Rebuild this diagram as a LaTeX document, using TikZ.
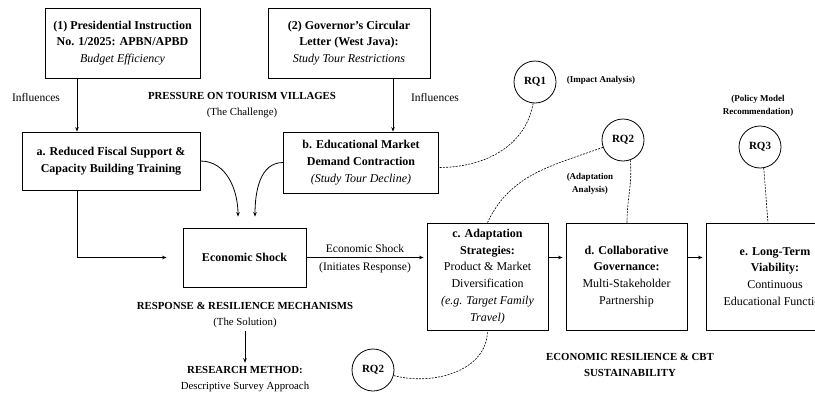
\documentclass[tikz,border=0pt]{standalone}
\usepackage{fontspec}
\setmainfont{Liberation Serif}
\usetikzlibrary{arrows.meta}

\begin{document}
\begin{tikzpicture}[x=1pt,y=-1pt,line width=0.8pt,
    box/.style={draw,align=center,font=\fontsize{12}{16.8}\selectfont,inner sep=1pt},
    rq/.style={draw,circle,minimum size=42pt,inner sep=0pt,font=\bfseries\fontsize{11}{12}\selectfont},
    note/.style={align=center,font=\bfseries\fontsize{9}{13}\selectfont},
    lbl/.style={font=\fontsize{11.5}{13}\selectfont},
    head/.style={align=center,font=\fontsize{10.8}{15.5}\selectfont},
    link/.style={dash pattern=on 2pt off 1.2pt,line width=0.6pt},
    >={Stealth[length=4.5pt,width=3.5pt]}]
  \useasboundingbox (0,0) rectangle (815,394);
  \clip (0,0) rectangle (815,394);
  % policy sources
  \node[box,minimum width=155pt,minimum height=70pt] (pol1) at (122.5,43)
    {\textbf{(1) Presidential Instruction}\\\textbf{No. 1/2025: APBN/APBD}\\\textit{Budget Efficiency}};
  \node[box,minimum width=162pt,minimum height=70pt] (pol2) at (349,43)
    {\textbf{(2) Governor’s Circular}\\\textbf{Letter (West Java):}\\\textit{Study Tour Restrictions}};
  % pressures
  \node[box,minimum width=178pt,minimum height=58pt] (fiscal) at (111,161)
    {\textbf{a. Reduced Fiscal Support \&}\\\textbf{Capacity Building Training}};
  \node[box,minimum width=155pt,minimum height=61pt] (demand) at (361,162.5)
    {\textbf{b. Educational Market}\\\textbf{Demand Contraction}\\\textit{(Study Tour Decline)}};
  \node[box,minimum width=123pt,minimum height=59pt] (shock) at (244.5,257.5) {\textbf{Economic Shock}};
  % responses
  \node[box,minimum width=121pt,minimum height=107pt] (adapt) at (487.5,276.5)
    {\textbf{c. Adaptation}\\\textbf{Strategies:}\\Product \& Market\\Diversification\\\textit{(e.g. Target Family}\\\textit{Travel)}};
  \node[box,minimum width=121pt,minimum height=107pt] (govern) at (626.5,276.5)
    {\textbf{d. Collaborative}\\\textbf{Governance:}\\Multi-Stakeholder\\Partnership};
  \node[box,minimum width=138pt,minimum height=107pt] (viable) at (775,276.5)
    {\textbf{e. Long-Term}\\\textbf{Viability:}\\Continuous\\Educational Function};
  % research questions
  \node[rq] (rq1) at (535,82) {RQ1};
  \node[rq] (rq2a) at (623,140) {RQ2};
  \node[rq] (rq3) at (760,147) {RQ3};
  \node[rq] (rq2b) at (373,370) {RQ2};
  \node[note] (impact) at (601,80) {(Impact Analysis)};
  \node[note] (adnote) at (590,184) {(Adaptation\\Analysis)};
  \node[note] (polnote) at (758,106) {(Policy Model\\Recommendation)};
  % headings
  \node[lbl] (infl1) at (36,98) {Influences};
  \node[lbl] (infl2) at (435,98) {Influences};
  \node[head] (pressure) at (242,105) {\textbf{PRESSURE ON TOURISM VILLAGES}\\(The Challenge)};
  \node[head] (response) at (245,315) {\textbf{RESPONSE \& RESILIENCE MECHANISMS}\\(The Solution)};
  \node[head] (method) at (245,379) {\textbf{RESEARCH METHOD:}\\Descriptive Survey Approach};
  \node[head] (outcome) at (630,365) {\textbf{ECONOMIC RESILIENCE \& CBT}\\\textbf{SUSTAINABILITY}};
  % arrows
  \draw[->] ([xshift=-45.5pt]pol1.south) -- ([xshift=-45.5pt]pol1.south |- fiscal.north);
  \draw[->] ([xshift=44pt]pol2.south) -- ([xshift=44pt]pol2.south |- demand.north);
  \draw[->] ([xshift=-34pt]fiscal.south) |- ([xshift=-16pt]shock.west);
  \draw[->] (fiscal.east) to[out=0,in=90] ([xshift=-6.5pt,yshift=11pt]shock.north);
  \draw[->] (demand.west) to[out=180,in=90] ([xshift=10.5pt,yshift=11pt]shock.north);
  \draw[->] (shock.east) -- node[lbl,above=1pt]{Economic Shock} node[lbl,below=1pt]{(Initiates Response)} ([xshift=-3pt]shock.east -| adapt.west);
  \draw[->] (adapt.east |- shock.east) -- ([xshift=-3pt]govern.west |- shock.east);
  \draw[->] (govern.east |- shock.east) -- ([xshift=-3pt]viable.west |- shock.east);
  \draw[->] (response.south) -- (method.north);
  % links to research questions
  \draw[link] (rq1.265) to[out=-100,in=0] ([yshift=-5pt]demand.east);
  \draw[link] (rq2a.200) to[out=200,in=65] (adapt.north);
  \draw[link] (rq2a.-70) to[out=-85,in=90] ([xshift=0.5pt]govern.north);
  \draw[link] (rq3.-80) to[out=-85,in=95] ([xshift=-7pt]viable.north);
  \draw[link] (rq2b.-15) to[out=-15,in=-90] (adapt.south);
\end{tikzpicture}
\end{document}
